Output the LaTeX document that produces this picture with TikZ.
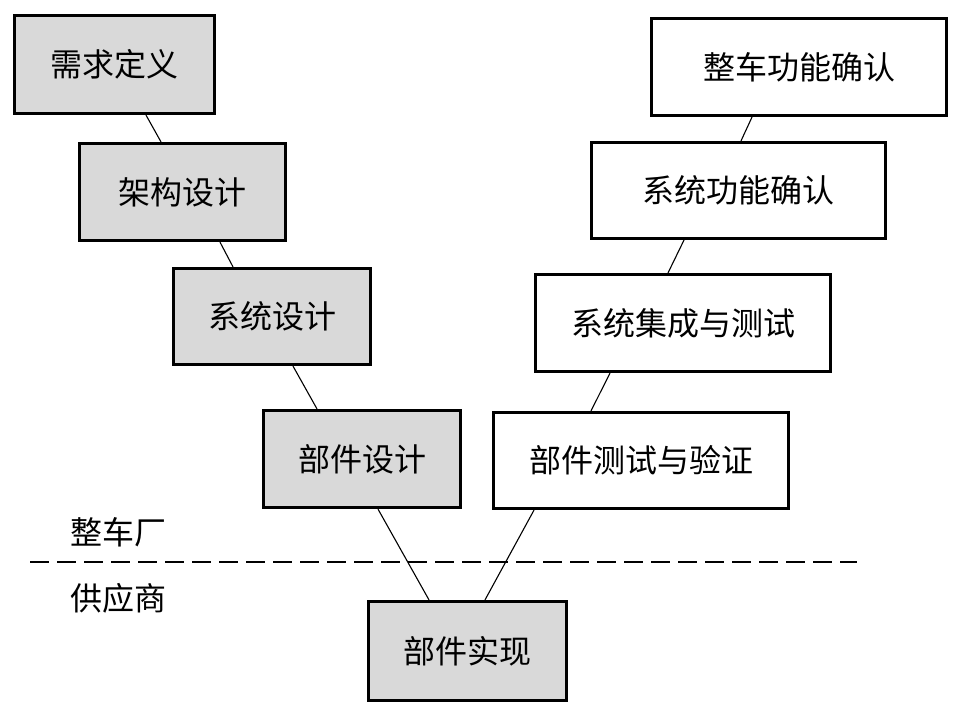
\documentclass[tikz,border=0pt]{standalone}
\usepackage{fontspec}
\newfontfamily\cjk{Noto Sans CJK SC}
\usetikzlibrary{calc}
\definecolor{boxgray}{HTML}{D9D9D9}
\tikzset{
  vbox/.style={draw=black, line width=3.2pt, inner sep=0pt, font=\cjk\fontsize{32}{32}\selectfont, text=black},
  graybox/.style={vbox, fill=boxgray},
  whitebox/.style={vbox, fill=white},
  link/.style={draw=black, line width=1.1pt},
  divider/.style={draw=black, line width=1.3pt, dash pattern=on 19pt off 8pt},
  sidelabel/.style={inner sep=0pt, font=\cjk\fontsize{32}{32}\selectfont}
}
\begin{document}
\begin{tikzpicture}[x=1pt,y=-1pt]
\useasboundingbox[fill=white] (0,0) rectangle (961,715);
% left branch
\node[graybox, minimum width=200pt, minimum height=98pt] (req) at (114.5,64.5) {需求定义};
\node[graybox, minimum width=206pt, minimum height=97pt] (arch) at (182.5,192) {架构设计};
\node[graybox, minimum width=197pt, minimum height=96pt] (sys) at (272,316.5) {系统设计};
\node[graybox, minimum width=197pt, minimum height=97pt] (comp) at (362,459) {部件设计};
\node[graybox, minimum width=198pt, minimum height=99pt] (impl) at (467.5,651) {部件实现};
% right branch
\node[whitebox, minimum width=295pt, minimum height=96pt] (ctest) at (641,460.5) {部件测试与验证};
\node[whitebox, minimum width=295pt, minimum height=97pt] (sint) at (683,323) {系统集成与测试};
\node[whitebox, minimum width=294pt, minimum height=96pt] (sval) at (738.5,190.5) {系统功能确认};
\node[whitebox, minimum width=295pt, minimum height=97pt] (vval) at (799,67) {整车功能确认};
% connectors
\draw[link] ([xshift=31.5pt]req.south) -- ([xshift=-21.5pt]arch.north);
\draw[link] ([xshift=37.5pt]arch.south) -- ([xshift=-39pt]sys.north);
\draw[link] ([xshift=21pt]sys.south) -- ([xshift=-45pt]comp.north);
\draw[link] ([xshift=16pt]comp.south) -- ([xshift=-38.5pt]impl.north);
\draw[link] ([xshift=17.5pt]impl.north) -- ([xshift=-107pt]ctest.south);
\draw[link] ([xshift=-50pt]ctest.north) -- ([xshift=-73pt]sint.south);
\draw[link] ([xshift=-15pt]sint.north) -- ([xshift=-54.5pt]sval.south);
\draw[link] ([xshift=2.5pt]sval.north) -- ([xshift=-47pt]vval.south);
% divider
\coordinate (dl) at (30,562);
\coordinate (dr) at (857,562);
\draw[divider] (dl) -- (dr);
\node[sidelabel] (oem) at (118,532) {整车厂};
\node[sidelabel] (sup) at (118,598) {供应商};
\end{tikzpicture}
\end{document}
